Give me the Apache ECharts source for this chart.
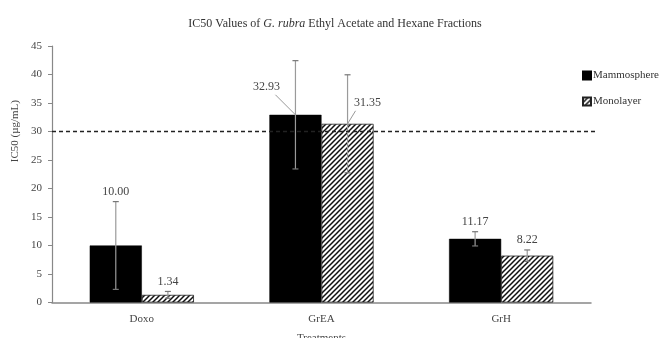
<!DOCTYPE html>
<html><head><meta charset="utf-8">
<script src="https://cdn.jsdelivr.net/npm/echarts@6/dist/echarts.min.js"></script>
<style>html,body{margin:0;padding:0;background:#fff}#c{width:664px;height:338px}</style>
</head><body><div id="c"></div>
<script>
var categories = ['Doxo', 'GrEA', 'GrH'];
var mammosphere = [10.00, 32.93, 11.17];
var monolayer = [1.34, 31.35, 8.22];
var mammosphereErr = [7.7, 9.5, 1.25];
var monolayerErr = [0.6, 8.6, 1.0];
var threshold = 30;
var yTicks = [0, 5, 10, 15, 20, 25, 30, 35, 40, 45];

var FONT = '"Liberation Serif", "DejaVu Serif", serif';

function hatch() {
  var c = document.createElement('canvas');
  c.width = 5; c.height = 5;
  var g = c.getContext('2d');
  g.fillStyle = '#fff'; g.fillRect(0, 0, 5, 5);
  g.strokeStyle = '#111'; g.lineWidth = 1.5;
  g.beginPath();
  g.moveTo(0, 5); g.lineTo(5, 0);
  g.moveTo(-2.5, 2.5); g.lineTo(2.5, -2.5);
  g.moveTo(2.5, 7.5); g.lineTo(7.5, 2.5);
  g.stroke();
  return c;
}
var hatchPattern = { image: hatch(), repeat: 'repeat' };

var chart = echarts.init(document.getElementById('c'));

function errItem(seriesIdx) {
  return function (params, api) {
    var i = api.value(0), v = api.value(1), e = api.value(2);
    var center = api.coord([i, v]);
    var bw = api.size([1, 0])[0] * 0.29;
    var x = center[0] + (seriesIdx === 0 ? -bw / 2 : bw / 2);
    var top = api.coord([i, v + e])[1];
    var bot = api.coord([i, v - e])[1];
    var yv = center[1];
    var children = [
      { type: 'line', shape: { x1: x, y1: top, x2: x, y2: bot }, style: { stroke: '#9a9a9a', lineWidth: 1.2 } },
      { type: 'line', shape: { x1: x - 3, y1: top, x2: x + 3, y2: top }, style: { stroke: '#777', lineWidth: 1.2 } },
      { type: 'line', shape: { x1: x - 3, y1: bot, x2: x + 3, y2: bot }, style: { stroke: '#777', lineWidth: 1.2 } }
    ];
    var txt = v.toFixed(2);
    if (e > 5 && v > 20) {
      var lx = seriesIdx === 0 ? x - 29 : x + 20;
      var ly = seriesIdx === 0 ? yv - 28 : yv - 21;
      children.push({ type: 'line', shape: { x1: seriesIdx === 0 ? lx + 9 : lx - 12, y1: ly + 8, x2: x, y2: yv },
        style: { stroke: '#999', lineWidth: 1 } });
      children.push({ type: 'text', style: { text: txt, x: lx, y: ly, align: 'center', verticalAlign: 'middle',
        font: '12px ' + FONT, fill: '#444' } });
    } else {
      children.push({ type: 'text', style: { text: txt, x: x, y: top - 10, align: 'center', verticalAlign: 'middle',
        font: '12px ' + FONT, fill: '#444' } });
    }
    return { type: 'group', children: children };
  };
}

chart.setOption({
  animation: false,
  backgroundColor: '#fff',
  title: {
    text: 'IC50 Values of {i|G. rubra} Ethyl Acetate and Hexane Fractions',
    left: 330, top: 13, textAlign: 'center',
    textStyle: { fontFamily: FONT, fontSize: 12, fontWeight: 'normal', color: '#333',
      rich: { i: { fontFamily: FONT, fontSize: 12, fontStyle: 'italic', color: '#333' } } }
  },
  legend: {
    orient: 'vertical', left: 577, top: 65, itemWidth: 8, itemHeight: 8, itemGap: 15, icon: 'rect',
    textStyle: { fontFamily: FONT, fontSize: 11, color: '#333', padding: [0, 0, 0, -3] },
    data: ['Mammosphere', 'Monolayer']
  },
  grid: { left: 52, right: 73, top: 46, bottom: 35.5, outerBoundsMode: 'none', containLabel: false },
  xAxis: {
    type: 'category', data: categories,
    name: 'Treatments', nameLocation: 'middle', nameGap: 30,
    nameTextStyle: { fontFamily: FONT, fontSize: 11, color: '#444' },
    axisLine: { lineStyle: { color: '#888', width: 1.5 } },
    axisTick: { show: false },
    axisLabel: { fontFamily: FONT, fontSize: 11, color: '#444', margin: 11 }
  },
  yAxis: {
    type: 'value', min: yTicks[0], max: yTicks[yTicks.length - 1], interval: 5,
    axisLine: { show: true, lineStyle: { color: '#888', width: 1.2 } },
    axisTick: { show: true, length: 4, lineStyle: { color: '#888' } },
    axisLabel: { fontFamily: FONT, fontSize: 11, color: '#444', margin: 10 },
    splitLine: { show: false }
  },
  graphic: [{
    type: 'text', left: 10, top: 100, rotation: Math.PI / 2,
    style: { text: 'IC50 (µg/mL)', font: '11px ' + FONT, fill: '#444' }
  }],
  series: [
    {
      name: 'Mammosphere', type: 'bar', data: mammosphere, barGap: '0%', barCategoryGap: '42%',
      itemStyle: { color: '#000', borderColor: '#000', borderWidth: 0.5 }
    },
    {
      name: 'Monolayer', type: 'bar', data: monolayer,
      itemStyle: { color: hatchPattern, borderColor: '#222', borderWidth: 0.8 }
    },
    {
      type: 'custom', name: 'threshold', z: 12, silent: true,
      data: [[0, threshold]],
      renderItem: function (params, api) {
        var p = api.coord([0, api.value(1)]);
        var cs = params.coordSys;
        return { type: 'line', shape: { x1: cs.x, y1: p[1], x2: cs.x + cs.width + 7, y2: p[1] },
          style: { stroke: '#222', lineWidth: 1.3, lineDash: [4, 3] } };
      }
    },
    {
      type: 'custom', name: 'errM', renderItem: errItem(0), z: 10,
      data: categories.map(function (c, i) { return [i, mammosphere[i], mammosphereErr[i]]; })
    },
    {
      type: 'custom', name: 'errL', renderItem: errItem(1), z: 10,
      data: categories.map(function (c, i) { return [i, monolayer[i], monolayerErr[i]]; })
    }
  ]
});
</script></body></html>
